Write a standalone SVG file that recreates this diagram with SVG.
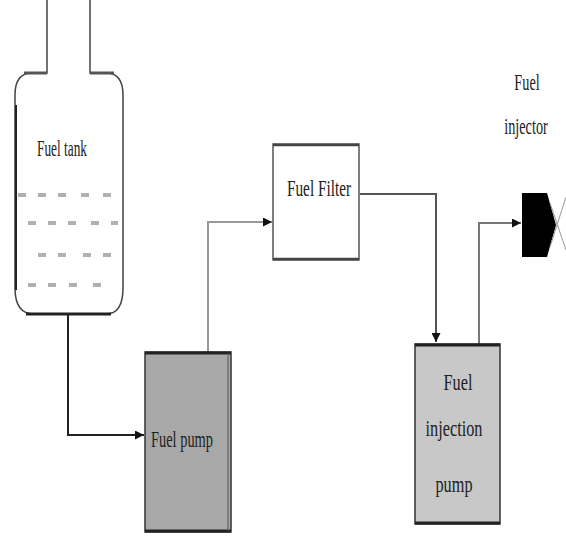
<svg xmlns="http://www.w3.org/2000/svg" width="566" height="539" viewBox="0 0 566 539">
<style>
text{font-family:"Liberation Serif","Times New Roman",serif;font-size:23px;fill:#222;text-anchor:middle}
.dash{stroke:#b0b0b0;stroke-width:4;stroke-linecap:butt}
.pipe{fill:none;stroke-width:2}
.box{stroke:#333;stroke-width:1.5}
.edge{stroke:#222;stroke-width:3}
</style>
<defs>
<marker id="ah" viewBox="0 0 10 10" refX="10" refY="5" markerWidth="9" markerHeight="9" markerUnits="userSpaceOnUse" orient="auto">
<path d="M0,0 L10,5 L0,10 z" fill="#111"/>
</marker>
</defs>
<rect width="566" height="539" fill="#fff"/>
<g id="connectors">
<path class="pipe" d="M68,315 V435 H144" stroke="#222" marker-end="url(#ah)"/>
<path class="pipe" d="M208,352 V222 H272" stroke="#999" marker-end="url(#ah)"/>
<path class="pipe" d="M360,194 H436 V342" stroke="#555" marker-end="url(#ah)"/>
<path class="pipe" d="M479,344 V223 H521" stroke="#777" marker-end="url(#ah)"/>
</g>
<g id="fuel-tank">
<path d="M47,0 V73 H32 Q15,73 15,95 V288 Q15,314 34,314 H106 Q123,314 123,288 V95 Q123,73 106,73 H90 V0" fill="#fff" stroke="#444" stroke-width="1.5"/>
<path d="M24,73 H47 M90,73 H114" stroke="#555" stroke-width="3"/>
<path d="M26,314 H111" class="edge"/>
<path d="M16,105 V290" stroke="#222" stroke-width="2"/>
<g>
<line class="dash" x1="18" y1="195" x2="26" y2="195"/><line class="dash" x1="38" y1="195" x2="46" y2="195"/><line class="dash" x1="58" y1="195" x2="66" y2="195"/><line class="dash" x1="81" y1="195" x2="89" y2="195"/><line class="dash" x1="103" y1="195" x2="111" y2="195"/>
<line class="dash" x1="28" y1="223" x2="36" y2="223"/><line class="dash" x1="48" y1="223" x2="56" y2="223"/><line class="dash" x1="68" y1="223" x2="76" y2="223"/><line class="dash" x1="91" y1="223" x2="99" y2="223"/><line class="dash" x1="111" y1="223" x2="118" y2="223"/>
<line class="dash" x1="38" y1="255" x2="46" y2="255"/><line class="dash" x1="58" y1="255" x2="66" y2="255"/><line class="dash" x1="83" y1="255" x2="91" y2="255"/><line class="dash" x1="103" y1="255" x2="111" y2="255"/>
<line class="dash" x1="28" y1="285" x2="36" y2="285"/><line class="dash" x1="48" y1="285" x2="56" y2="285"/><line class="dash" x1="69" y1="285" x2="77" y2="285"/><line class="dash" x1="93" y1="285" x2="101" y2="285"/>
</g>
<text x="62" y="156" textLength="50" lengthAdjust="spacingAndGlyphs">Fuel tank</text>
</g>
<g id="fuel-pump">
<rect class="box" x="145" y="352" width="86" height="180" fill="#a8a8a8"/>
<path class="edge" d="M145,353 H231 M145,531 H231"/>
<path d="M228,353 V531" stroke="#555" stroke-width="1"/>
<text x="182" y="447" textLength="62" lengthAdjust="spacingAndGlyphs">Fuel pump</text>
</g>
<g id="fuel-filter">
<rect x="273" y="144" width="86" height="116" fill="#fff" stroke="#555" stroke-width="1.5"/>
<path d="M273,145 H359 M273,259 H359" stroke="#444" stroke-width="2.5"/>
<text x="319" y="196" textLength="64" lengthAdjust="spacingAndGlyphs">Fuel Filter</text>
</g>
<g id="injection-pump">
<rect class="box" x="415" y="344" width="85" height="180" fill="#c8c8c8"/>
<path class="edge" d="M415,345 H500 M415,523 H500"/>
<text x="458" y="390" textLength="29" lengthAdjust="spacingAndGlyphs">Fuel</text>
<text x="454" y="436" textLength="57" lengthAdjust="spacingAndGlyphs">injection</text>
<text x="454" y="492" textLength="37" lengthAdjust="spacingAndGlyphs">pump</text>
</g>
<g id="fuel-injector">
<path d="M522,193 H547 L556,225 L547,257 H522 Z" fill="#000"/>
<path d="M550,203 L566,250 M566,197 L550,247" stroke="#999" stroke-width="1"/>
<text transform="translate(527,90) scale(0.62,1)">Fuel</text>
<text transform="translate(526,134) scale(0.62,1)">injector</text>
</g>
</svg>
